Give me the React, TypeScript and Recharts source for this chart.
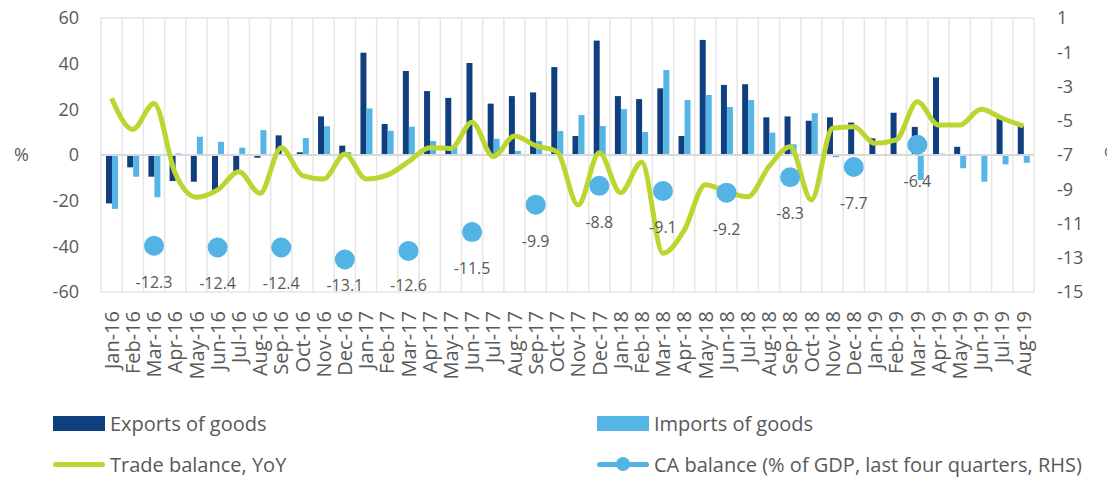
import {
  ComposedChart,
  Bar,
  Line,
  XAxis,
  YAxis,
  CartesianGrid,
  ReferenceLine,
  Label,
  LabelList,
} from "recharts";

const months = [
  "Jan-16", "Feb-16", "Mar-16", "Apr-16", "May-16", "Jun-16", "Jul-16", "Aug-16", "Sep-16", "Oct-16", "Nov-16", "Dec-16",
  "Jan-17", "Feb-17", "Mar-17", "Apr-17", "May-17", "Jun-17", "Jul-17", "Aug-17", "Sep-17", "Oct-17", "Nov-17", "Dec-17",
  "Jan-18", "Feb-18", "Mar-18", "Apr-18", "May-18", "Jun-18", "Jul-18", "Aug-18", "Sep-18", "Oct-18", "Nov-18", "Dec-18",
  "Jan-19", "Feb-19", "Mar-19", "Apr-19", "May-19", "Jun-19", "Jul-19", "Aug-19",
];

const exportsGoods = [
  -21.2, -5.4, -9.5, -11.4, -11.7, -15.3, -7.3, -1.2, 8.6, 1.2, 16.9, 4.1,
  44.8, 13.6, 36.8, 28.0, 25.0, 40.3, 22.5, 25.8, 27.4, 38.5, 8.3, 50.1,
  25.8, 24.5, 29.2, 8.3, 50.4, 30.7, 31.0, 16.5, 16.9, 15.0, 16.5, 14.2,
  7.3, 18.5, 12.3, 34.0, 3.6, 0.2, 16.1, 12.7,
];

const importsGoods = [
  -23.6, -9.5, -18.5, 0.7, 8.0, 5.8, 3.2, 10.9, 0.3, 7.4, 12.6, 1.3,
  20.4, 10.6, 12.4, 6.1, 3.6, 0.2, 7.1, 1.8, 6.1, 10.5, 17.5, 12.7,
  20.1, 10.1, 37.2, 24.1, 26.3, 21.0, 24.1, 9.8, 4.7, 18.3, -1.0, 0,
  0.2, 0.5, -11.0, 0.6, -5.8, -11.7, -4.1, -3.4,
];

const tradeBalance = [
  24.8, 11.2, 22.6, -8, -18.5, -15.3, -7.3, -16.8, 3.2, -9, -10.5, 0.4,
  -10.5, -8.8, -2.9, 3.2, 2.9, 14.3, -0.7, 8.3, 4.1, 1.5, -21.9, 1.0,
  -16.5, -3.2, -43, -33, -13, -16, -18.3, -5.1, 3.6, -19.7, 11.7, 12.4,
  5.1, 6.6, 23.3, 13.1, 13.1, 20.0, 16.1, 12.7,
];

// CA balance, quarterly (Mar, Jun, Sep, Dec)
const caMonths = [
  "Mar-16", "Jun-16", "Sep-16", "Dec-16", "Mar-17", "Jun-17", "Sep-17",
  "Dec-17", "Mar-18", "Jun-18", "Sep-18", "Dec-18", "Mar-19",
];
const caBalance = [-12.3, -12.4, -12.4, -13.1, -12.6, -11.5, -9.9, -8.8, -9.1, -9.2, -8.3, -7.7, -6.4];

const leftTicks = [-60, -40, -20, 0, 20, 40, 60];
const rightTicks = [-15, -13, -11, -9, -7, -5, -3, -1, 1];

const DARK = "#0f3f7e";
const LIGHT = "#55b5e6";
const GREEN = "#bcd631";
const DOT = "#52b3e4";
const TEXT = "#595959";
const GRID = "#e6e6e6";
const FONT = "'Open Sans', sans-serif";

const data = months.map((m, i) => {
  const q = caMonths.indexOf(m);
  return {
    month: m,
    exp: exportsGoods[i],
    imp: importsGoods[i],
    trade: tradeBalance[i],
    ca: q >= 0 ? caBalance[q] : null,
  };
});

const MonthTick = ({ x, y, payload }: any) => (
  <g transform={`translate(${x},${y})`}>
    <text
      transform="rotate(-90)"
      textAnchor="end"
      dy="0.36em"
      fill={TEXT}
      fontSize={20}
      fontFamily={FONT}
    >
      {payload.value}
    </text>
  </g>
);

// labels sit under the dot, but stay inside the plot area like Excel does
const CaLabel = ({ x, y, value }: any) =>
  value == null ? null : (
    <text x={x} y={Math.min(y + 42, 291)} textAnchor="middle" fill={TEXT} fontSize={16} fontFamily={FONT}>
      {value.toFixed(1)}
    </text>
  );

const legendText = { fontSize: 20, color: TEXT, fontFamily: FONT, marginLeft: 5 };

const ChartLegend = () => (
  <div style={{ position: "absolute", left: 0, top: 0, width: 1107, height: 478, pointerEvents: "none" }}>
    <div style={{ position: "absolute", left: 53, top: 410, display: "flex", alignItems: "center" }}>
      <span style={{ width: 52, height: 15, background: DARK, display: "inline-block" }} />
      <span style={legendText}>Exports of goods</span>
    </div>
    <div style={{ position: "absolute", left: 597, top: 410, display: "flex", alignItems: "center" }}>
      <span style={{ width: 52, height: 15, background: LIGHT, display: "inline-block" }} />
      <span style={legendText}>Imports of goods</span>
    </div>
    <div style={{ position: "absolute", left: 53, top: 451, display: "flex", alignItems: "center" }}>
      <span style={{ width: 52, height: 5, background: GREEN, borderRadius: 3, display: "inline-block" }} />
      <span style={legendText}>Trade balance, YoY</span>
    </div>
    <div style={{ position: "absolute", left: 597, top: 451, display: "flex", alignItems: "center" }}>
      <span style={{ position: "relative", width: 52, height: 5, background: DOT, borderRadius: 3, display: "inline-block" }}>
        <span
          style={{
            position: "absolute",
            left: 19,
            top: -5,
            width: 14,
            height: 14,
            borderRadius: 7,
            background: DOT,
          }}
        />
      </span>
      <span style={legendText}>CA balance (% of GDP, last four quarters, RHS)</span>
    </div>
  </div>
);

const App = () => {
  return (
    <div style={{ position: "absolute", left: 0, top: 0, width: 1107, height: 478, background: "#fff" }}>
      <ComposedChart
        width={1107}
        height={478}
        data={data}
        margin={{ top: 18, right: 0, left: 0, bottom: 86 }}
        barGap={0}
      >
        <CartesianGrid
          stroke={GRID}
          strokeWidth={1.5}
          verticalCoordinatesGenerator={({ offset }: any) =>
            months.map((_, k) => offset.left + (k * offset.width) / months.length).concat(offset.left + offset.width)
          }
          horizontalCoordinatesGenerator={({ offset }: any) => [offset.top, offset.top + offset.height]}
        />
        <XAxis
          dataKey="month"
          interval={0}
          height={100}
          tick={<MonthTick />}
          tickLine={false}
          axisLine={false}
          tickMargin={13}
        />
        <YAxis
          yAxisId="left"
          domain={[-60, 60]}
          ticks={leftTicks}
          width={101}
          tickSize={0}
          tickMargin={22}
          axisLine={false}
          tick={{ fill: TEXT, fontSize: 18, fontFamily: FONT }}
        >
          <Label value="%" position="insideLeft" offset={14} fill={TEXT} fontSize={18} fontFamily={FONT} />
        </YAxis>
        <YAxis
          yAxisId="right"
          orientation="right"
          domain={[-15, 1]}
          ticks={rightTicks}
          width={73}
          tickSize={0}
          tickMargin={23}
          axisLine={false}
          tick={{ fill: TEXT, fontSize: 18, fontFamily: FONT, textAnchor: "start" }}
        >
          <Label value="%" position="insideRight" offset={-12} fill={TEXT} fontSize={18} fontFamily={FONT} />
        </YAxis>
        <ReferenceLine yAxisId="left" y={0} stroke="#d9d9d9" strokeWidth={2} />
        <Bar yAxisId="left" dataKey="exp" name="Exports of goods" fill={DARK} barSize={6} isAnimationActive={false} />
        <Bar yAxisId="left" dataKey="imp" name="Imports of goods" fill={LIGHT} barSize={6} isAnimationActive={false} />
        <Line
          yAxisId="right"
          dataKey="ca"
          name="CA balance (% of GDP, last four quarters, RHS)"
          stroke="none"
          dot={{ r: 10, fill: DOT, stroke: "none" }}
          connectNulls={false}
          isAnimationActive={false}
        >
          <LabelList dataKey="ca" content={<CaLabel />} />
        </Line>
        <Line
          yAxisId="left"
          type="monotone"
          dataKey="trade"
          name="Trade balance, YoY"
          stroke={GREEN}
          strokeWidth={5}
          dot={false}
          isAnimationActive={false}
        />
      </ComposedChart>
      <ChartLegend />
    </div>
  );
};

export default App;
